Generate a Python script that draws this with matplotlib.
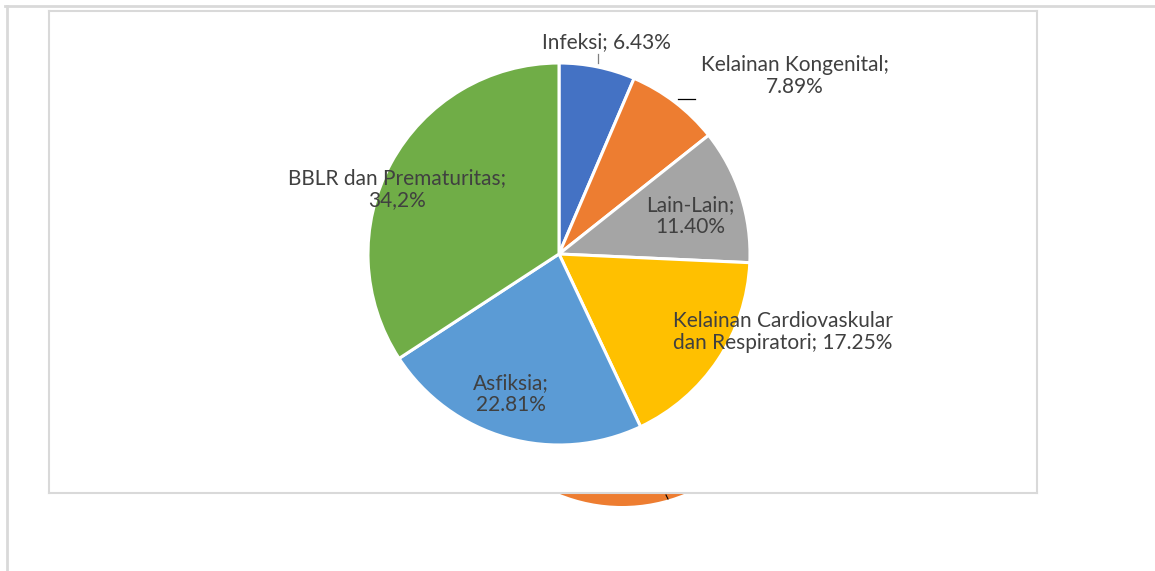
import matplotlib
matplotlib.use("Agg")
import matplotlib.pyplot as plt
from matplotlib.lines import Line2D

plt.rcParams["font.family"] = ["Lato", "DejaVu Sans"]

# data
labels = ["Infeksi", "Kelainan Kongenital", "Lain-Lain",
          "Kelainan Cardiovaskular dan Respiratori", "Asfiksia", "BBLR dan Prematuritas"]
values = [6.43, 7.89, 11.40, 17.25, 22.81, 34.2]
label_texts = ["Infeksi; 6.43%", "Kelainan Kongenital;\n7.89%", "Lain-Lain;\n11.40%",
               "Kelainan Cardiovaskular\ndan Respiratori; 17.25%", "Asfiksia;\n22.81%",
               "BBLR dan Prematuritas;\n34,2%"]
colors = ["#4472C4", "#ED7D31", "#A5A5A5", "#FFC000", "#5B9BD5", "#70AD47"]

# hidden chart behind (only a bit of one orange slice shows)
hidden_values = [1]
hidden_colors = ["#ED7D31"]

W, H = 1155, 571
fig = plt.figure(figsize=(W / 100, H / 100), dpi=100)

# background layer: outer frame + piece of other chart
bg = fig.add_axes([0, 0, 1, 1], zorder=0)
bg.pie(hidden_values, colors=hidden_colors, center=(622, H - 340), radius=166,
       wedgeprops=dict(linewidth=0))
bg.set_xlim(0, W)
bg.set_ylim(0, H)
bg.set_aspect("auto")
bg.axis("off")
bg.plot([5, W], [H - 6, H - 6], color="#d9d9d9", lw=2)
bg.plot([7, 7], [H - 6, 0], color="#d9d9d9", lw=2)
bg.plot([666, 668], [H - 495, H - 499], color="black", lw=0.8)

# main chart panel
x0, x1, y0, y1 = 49, 1037, H - 493, H - 11
ax = fig.add_axes([x0 / W, y0 / H, (x1 - x0) / W, (y1 - y0) / H], zorder=2)
cx, cy, r = 559, H - 254, 191
ax.pie(values, colors=colors, startangle=90, counterclock=False,
       center=(cx, cy), radius=r,
       wedgeprops=dict(edgecolor="white", linewidth=2.2))
ax.set_xlim(x0, x1)
ax.set_ylim(y0, y1)
ax.set_aspect("auto")
ax.set_frame_on(True)
ax.set_facecolor("white")
for s in ax.spines.values():
    s.set_color("#d9d9d9")
    s.set_linewidth(1.5)
ax.set_xticks([])
ax.set_yticks([])

# label positions (pixel centres)
label_pos = [(606, 42), (795, 76), (690, 216), (783, 332), (511, 394), (397, 189)]
for txt, (px, py) in zip(label_texts, label_pos):
    ax.text(px, H - py, txt, ha="center", va="center", fontsize=15,
            color="#404040", linespacing=1.1)

# leader lines
ax.add_line(Line2D([597.5, 597.5], [H - 54, H - 63], color="#7f7f7f", lw=0.9))
ax.add_line(Line2D([678, 695], [H - 99, H - 99], color="black", lw=0.9))

fig.savefig("out.png", dpi=100)
